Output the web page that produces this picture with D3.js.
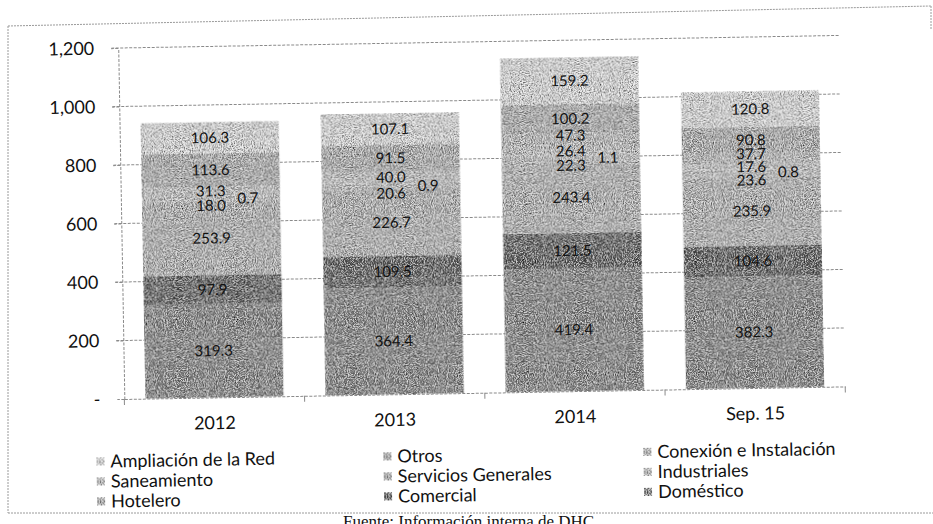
<!DOCTYPE html>
<html>
<head>
<meta charset="utf-8">
<title>Facturación por categoría</title>
<script src="https://d3js.org/d3.v7.min.js"></script>
<style>
body { margin: 0; background: #fff; }
svg { display: block; font-family: Lato, "Open Sans", sans-serif; }
.grid line { stroke: #8a8a8a; stroke-dasharray: 3,1.5; }
.yaxis text, .xaxis text { font-size: 18px; fill: #111; }
.lbl { font-size: 15px; fill: #111; }
.leg text { font-size: 18px; fill: #111; }
</style>
</head>
<body>
<svg width="933" height="524">
<defs>
<filter id="grain" x="0" y="0" width="100%" height="100%">
  <feTurbulence type="fractalNoise" baseFrequency="0.9" numOctaves="2" seed="4" result="noise"/>
  <feColorMatrix in="noise" type="matrix" values="0 0 0 0 0  0 0 0 0 0  0 0 0 0 0  2.4 0 0 0 -0.95" result="dark"/>
  <feColorMatrix in="noise" type="matrix" values="0 0 0 0 1  0 0 0 0 1  0 0 0 0 1  -2.2 0 0 0 1.15" result="light"/>
  <feComposite in="dark" in2="SourceGraphic" operator="in" result="darkIn"/>
  <feComposite in="light" in2="SourceGraphic" operator="in" result="lightIn"/>
  <feMerge><feMergeNode in="SourceGraphic"/><feMergeNode in="darkIn"/><feMergeNode in="lightIn"/></feMerge>
</filter>
</defs>
</svg>
<script>

// categories and series (stack order: bottom to top)
var years = ["2012", "2013", "2014", "Sep. 15"];
var series = ["Doméstico", "Comercial", "Hotelero", "Industriales", "Servicios Generales",
              "Saneamiento", "Conexión e Instalación", "Otros", "Ampliación de la Red"];

var domestico          = [319.3, 364.4, 419.4, 382.3];
var comercial          = [97.9, 109.5, 121.5, 104.6];
var hotelero           = [253.9, 226.7, 243.4, 235.9];
var industriales       = [18.0, 20.6, 22.3, 23.6];
var serviciosGenerales = [0.7, 0.9, 1.1, 0.8];
var saneamiento        = [31.3, 40.0, 26.4, 17.6];
var conexion           = [0, 0, 47.3, 37.7];
var otros              = [113.6, 91.5, 100.2, 90.8];
var ampliacion         = [106.3, 107.1, 159.2, 120.8];

var yTicks = [0, 200, 400, 600, 800, 1000, 1200];

// legend as printed, row by row
var legendOrder = ["Ampliación de la Red", "Otros", "Conexión e Instalación",
                   "Saneamiento", "Servicios Generales", "Industriales",
                   "Hotelero", "Comercial", "Doméstico"];

var columns = [domestico, comercial, hotelero, industriales, serviciosGenerales,
               saneamiento, conexion, otros, ampliacion];

var table = years.map(function (y, i) {
	var row = { year: y };
	series.forEach(function (s, j) { row[s] = columns[j][i]; });
	return row;
});

var color = d3.scaleOrdinal().domain(series)
	.range(["#8e8e8e", "#646464", "#bcbcbc", "#c6c6c6", "#b8b8b8",
	        "#c9c9c9", "#c2c2c2", "#b8b8b8", "#e2e2e2"]);

// small nudges of crowded labels, as in the original
var labelDx = { "Servicios Generales": 37 };
var labelDy = { "Industriales": 7, "Servicios Generales": 3, "Conexión e Instalación": -5 };

var svg = d3.select("svg");

var x = d3.scaleBand().domain(years).range([122, 843]).paddingInner(0.234).paddingOuter(0.117);
var y = d3.scaleLinear().domain([0, 1200]).range([393, 42]);

// the scanned chart sits slightly tilted on the page
var g = svg.append("g").attr("transform", "rotate(-1, 466, 262)");

// gridlines
g.append("g").attr("class", "grid")
	.selectAll("line").data(yTicks.slice(1)).enter().append("line")
	.attr("x1", 115).attr("x2", 843)
	.attr("y1", function (d) { return y(d); })
	.attr("y2", function (d) { return y(d); });

// y axis
var fmt = d3.format(",");
var yAxis = d3.axisLeft(y).tickValues(yTicks).tickSize(7).tickSizeOuter(0).tickPadding(17)
	.tickFormat(function (d) { return d === 0 ? "-" : fmt(d); });
var ya = g.append("g").attr("class", "yaxis").attr("transform", "translate(122,0)").call(yAxis);
ya.selectAll("path, line").attr("stroke", "#8a8a8a").attr("stroke-dasharray", "3,1.5");
ya.selectAll("text").style("font-family", "Lato, sans-serif");

// bars
var stack = d3.stack().keys(series)(table);

var bars = g.append("g").attr("filter", "url(#grain)");
bars.selectAll("g").data(stack).enter().append("g")
	.attr("fill", function (d) { return color(d.key); })
	.selectAll("rect").data(function (d) { return d; }).enter().append("rect")
	.attr("x", function (d) { return x(d.data.year); })
	.attr("width", x.bandwidth())
	.attr("y", function (d) { return y(d[1]); })
	.attr("height", function (d) { return y(d[0]) - y(d[1]); });

// x axis
var xAxis = d3.axisBottom(x).tickSize(0).tickPadding(19);
var xa = g.append("g").attr("class", "xaxis").attr("transform", "translate(0,393)").call(xAxis);
xa.select(".domain").attr("stroke", "#8a8a8a").attr("stroke-dasharray", "3,1.5");
xa.selectAll("text").style("font-family", "Lato, sans-serif");

g.append("g").selectAll("line").data(d3.range(years.length + 1)).enter().append("line")
	.attr("x1", function (i) { return x.range()[0] + i * x.step(); })
	.attr("x2", function (i) { return x.range()[0] + i * x.step(); })
	.attr("y1", 393).attr("y2", 399)
	.attr("stroke", "#8a8a8a");

// data labels
var f1 = d3.format(".1f");
var labels = g.append("g");
stack.forEach(function (layer) {
	var dx = labelDx[layer.key] || 0;
	var dy = labelDy[layer.key] || 0;
	labels.selectAll(null).data(layer.filter(function (d) { return d[1] - d[0] > 0; }))
		.enter().append("text").attr("class", "lbl")
		.attr("text-anchor", "middle")
		.attr("x", function (d) { return x(d.data.year) + x.bandwidth() / 2 + dx; })
		.attr("y", function (d) { return y((d[0] + d[1]) / 2) + dy; })
		.attr("dy", "0.35em")
		.text(function (d) { return f1(d[1] - d[0]); });
});

// legend
var legX = [93, 380, 640];
var legY = [455, 475, 495];
var leg = g.append("g").attr("class", "leg");
var item = leg.selectAll("g").data(legendOrder).enter().append("g")
	.attr("transform", function (d, i) {
		return "translate(" + legX[i % 3] + "," + legY[Math.floor(i / 3)] + ")";
	});
item.append("rect").attr("x", 0).attr("y", -4).attr("width", 8).attr("height", 8)
	.attr("fill", function (d) { return color(d); })
	.attr("filter", "url(#grain)");
item.append("text").attr("x", 14).attr("dy", "0.35em").text(function (d) { return d; });

// page frame from the scan
var frame = svg.append("g").attr("fill", "none").attr("stroke", "#9a9a9a").attr("stroke-dasharray", "2,1");
frame.append("path").attr("d", "M8,26 L931,6 M931,6 L931,30 M8,26 L8,513 M8,513 L933,513");

svg.append("text")
	.attr("x", 343).attr("y", 527)
	.style("font-family", "'Liberation Serif', 'Times New Roman', serif")
	.style("font-size", "17px")
	.attr("fill", "#111")
	.text("Fuente: Información interna de DHC");

</script>
</body>
</html>
